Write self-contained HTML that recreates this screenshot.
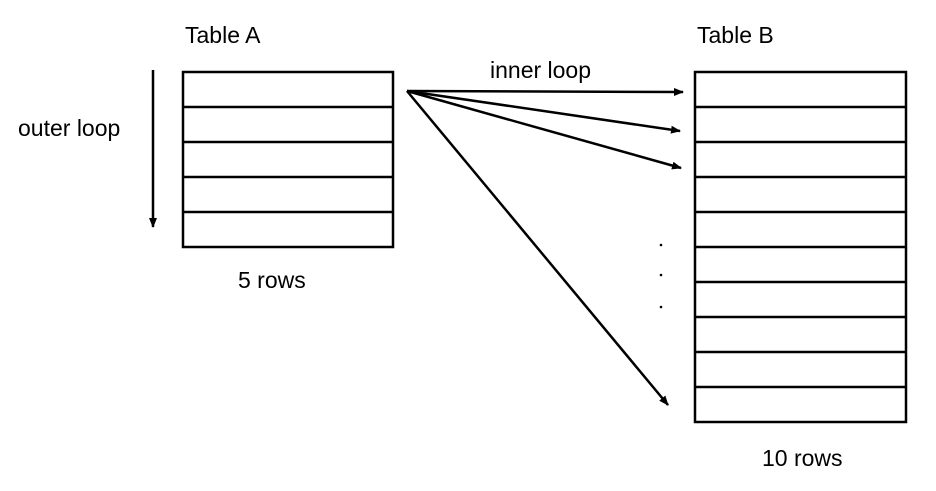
<!DOCTYPE html>
<html><head><meta charset="utf-8"><style>
body{margin:0;background:#fff}
svg text{font-family:"Liberation Sans","Noto Sans CJK KR",sans-serif;font-size:23px;fill:#000}
</style></head><body>
<svg width="936" height="486" viewBox="0 0 936 486" xmlns="http://www.w3.org/2000/svg">
<defs><marker id="ah" markerWidth="10" markerHeight="8" refX="9" refY="4" orient="auto" markerUnits="userSpaceOnUse"><path d="M0,0 L10,4 L0,8 z" fill="#000"/></marker></defs>
<g fill="none" stroke="#000" stroke-width="2.5">
<rect x="183" y="72" width="210" height="175"/>
<line x1="183" y1="107" x2="393" y2="107"/><line x1="183" y1="142" x2="393" y2="142"/><line x1="183" y1="177" x2="393" y2="177"/><line x1="183" y1="212" x2="393" y2="212"/>
<rect x="695" y="72" width="211" height="350"/>
<line x1="695" y1="107" x2="906" y2="107"/><line x1="695" y1="142" x2="906" y2="142"/><line x1="695" y1="177" x2="906" y2="177"/><line x1="695" y1="212" x2="906" y2="212"/><line x1="695" y1="247" x2="906" y2="247"/><line x1="695" y1="282" x2="906" y2="282"/><line x1="695" y1="317" x2="906" y2="317"/><line x1="695" y1="352" x2="906" y2="352"/><line x1="695" y1="387" x2="906" y2="387"/>
<line x1="153" y1="70" x2="153" y2="227" marker-end="url(#ah)"/>
<line x1="407" y1="91" x2="683" y2="92" marker-end="url(#ah)"/>
<line x1="407" y1="91" x2="680" y2="131" marker-end="url(#ah)"/>
<line x1="407" y1="91" x2="681" y2="168" marker-end="url(#ah)"/>
<line x1="407" y1="91" x2="668" y2="405" marker-end="url(#ah)"/>
</g>
<circle cx="661" cy="245" r="1.3"/><circle cx="661" cy="275" r="1.3"/><circle cx="661" cy="307" r="1.3"/>
<text x="185" y="43">Table A</text>
<text x="697" y="43">Table B</text>
<text x="18" y="136">outer loop</text>
<text x="490" y="78">inner loop</text>
<text x="238" y="288">5 rows</text>
<text x="762" y="466">10 rows</text>
</svg>
</body></html>
